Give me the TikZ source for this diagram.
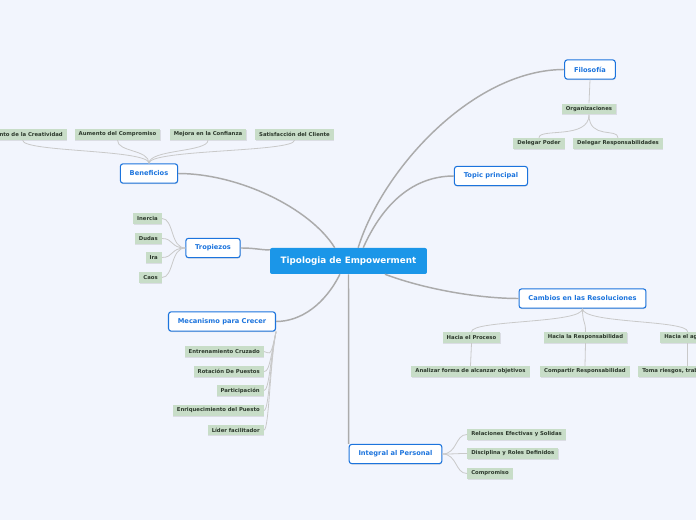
\documentclass[tikz,border=0pt]{standalone}
\usepackage{fontspec}
\setmainfont{DejaVu Sans}
\usetikzlibrary{shadows}
\definecolor{bgcol}{HTML}{F2F5FD}
\definecolor{rootcol}{HTML}{1B96E8}
\definecolor{topiccol}{HTML}{1C74DD}
\definecolor{subfill}{HTML}{C8DDC8}
\definecolor{subtext}{HTML}{2C382C}
\definecolor{linkcol}{HTML}{ABABAB}
\definecolor{twigcol}{HTML}{C9C9C9}

\begin{document}
\begin{tikzpicture}[
    x=0.75pt, y=-0.75pt,
    root/.style={fill=rootcol, text=white, rounded corners=1.5pt, font=\bfseries\fontsize{6.6}{8}\selectfont, minimum height=19.5pt, inner xsep=8pt},
    topic/.style={draw=topiccol, line width=0.8pt, fill=white, text=topiccol, rounded corners=2pt, font=\bfseries\fontsize{5}{6}\selectfont, minimum height=14.5pt, inner xsep=7pt, drop shadow={shadow xshift=0.3pt, shadow yshift=-0.7pt, opacity=0.25}},
    sub/.style={fill=subfill, text=subtext, font=\bfseries\fontsize{4}{5}\selectfont, minimum height=8.2pt, inner xsep=3pt, inner ysep=0pt, drop shadow={shadow xshift=0.4pt, shadow yshift=-0.6pt, opacity=0.2}},
    link/.style={draw=linkcol, line width=1.1pt},
    twig/.style={draw=twigcol, line width=0.6pt}
]
\path[use as bounding box, fill=bgcol] (0,0) rectangle (696,520);

% centre and main topics
\node[root] (tipo) at (348.5,261) {Tipologia de Empowerment};
\node[topic] (filo) at (590,69.5) {Filosofía};
\node[topic] (princ) at (491,176) {Topic principal};
\node[topic] (benef) at (149,173.5) {Beneficios};
\node[topic] (tropi) at (213,248) {Tropiezos};
\node[topic] (meca) at (222,321.5) {Mecanismo para Crecer};
\node[topic] (cambio) at (582.5,298.5) {Cambios en las Resoluciones};
\node[topic] (integ) at (395.5,454) {Integral al Personal};

% Filosofia
\node[sub] (orga) at (589,109) {Organizaciones};
\node[sub] (dpoder) at (539,143.5) {Delegar Poder};
\node[sub] (dresp) at (618,143.5) {Delegar Responsabilidades};

% Beneficios
\node[sub, anchor=east] (creat) at (67,134.5) {Aumento de la Creatividad};
\node[sub] (compr) at (117.5,134.5) {Aumento del Compromiso};
\node[sub] (confi) at (208,134.5) {Mejora en la Confianza};
\node[sub] (clien) at (294.5,134.5) {Satisfacción del Cliente};

% Tropiezos
\node[sub, anchor=east] (inerc) at (162,218.5) {Inercia};
\node[sub, anchor=east] (dudas) at (162,238.5) {Dudas};
\node[sub, anchor=east] (ira) at (162,257.5) {Ira};
\node[sub, anchor=east] (caos) at (162,277.5) {Caos};

% Mecanismo para Crecer
\node[sub, anchor=east] (entre) at (264,351.5) {Entrenamiento Cruzado};
\node[sub, anchor=east] (rotac) at (264,371.5) {Rotación De Puestos};
\node[sub, anchor=east] (parti) at (264,390.5) {Participación};
\node[sub, anchor=east] (enriq) at (264,410.5) {Enriquecimiento del Puesto};
\node[sub, anchor=east] (lider) at (264,430) {Líder facilitador};

% Cambios en las Resoluciones
\node[sub] (hproc) at (471.5,337.5) {Hacia el Proceso};
\node[sub] (hresp) at (585.5,337.5) {Hacia la Responsabilidad};
\node[sub, anchor=west] (hagen) at (660,337.5) {Hacia el agente};
\node[sub] (anali) at (470.5,371.5) {Analizar forma de alcanzar objetivos};
\node[sub] (compa) at (585,371.5) {Compartir Responsabilidad};
\node[sub, anchor=west] (toma) at (638,371.5) {Toma riesgos, trabaja en equipo};

% Integral al Personal
\node[sub, anchor=west] (relac) at (467,434.5) {Relaciones Efectivas y Solidas};
\node[sub, anchor=west] (disci) at (467,453.5) {Disciplina y Roles Definidos};
\node[sub, anchor=west] (compro) at (467,473.5) {Compromiso};

% main links
\draw[link] (tipo.54) .. controls +(25,-80) and +(-90,0) .. (filo.west);
\draw[link] (tipo.42) .. controls +(20,-45) and +(-40,0) .. (princ.west);
\draw[link] (tipo.136) .. controls +(-25,-40) and +(60,0) .. (benef.east);
\draw[link] (tipo.172) .. controls +(-10,0) and +(15,0) .. (tropi.east);
\draw[link] (tipo.237) .. controls +(-15,30) and +(25,0) .. (meca.east);
\draw[link] (tipo.south) -- (integ.north west);
\draw[link] (tipo.-20) .. controls +(40,15) and +(-40,0) .. (cambio.west);

% twigs
\draw[twig] (filo.south) -- (orga.north);
\foreach \k in {dpoder,dresp}
  \draw[twig] (orga.south) .. controls +(0,25) and +(0,-10) .. (\k.north);
\foreach \k in {creat,compr,confi,clien}
  \draw[twig] (benef.north) .. controls +(0,-14) and +(0,12) .. (\k.south);
\foreach \k in {inerc,dudas,ira,caos}
  \draw[twig] (tropi.west) .. controls +(-15,0) and +(12,0) .. (\k.east);
\foreach \k in {entre,rotac,parti,enriq,lider}
  \draw[twig] (meca.south east) .. controls +(-6,30) and +(5,0) .. (\k.east);
\foreach \k in {hproc,hresp,hagen}
  \draw[twig] (cambio.south) .. controls +(0,15) and +(0,-12) .. (\k.north);
\draw[twig] (hproc.south) -- (anali.north);
\draw[twig] (hresp.south) -- (compa.north);
\draw[twig] (hagen.south) -- (hagen.south |- toma.north);
\foreach \k in {relac,disci,compro}
  \draw[twig] (integ.east) .. controls +(15,0) and +(-12,0) .. (\k.west);
\end{tikzpicture}
\end{document}
